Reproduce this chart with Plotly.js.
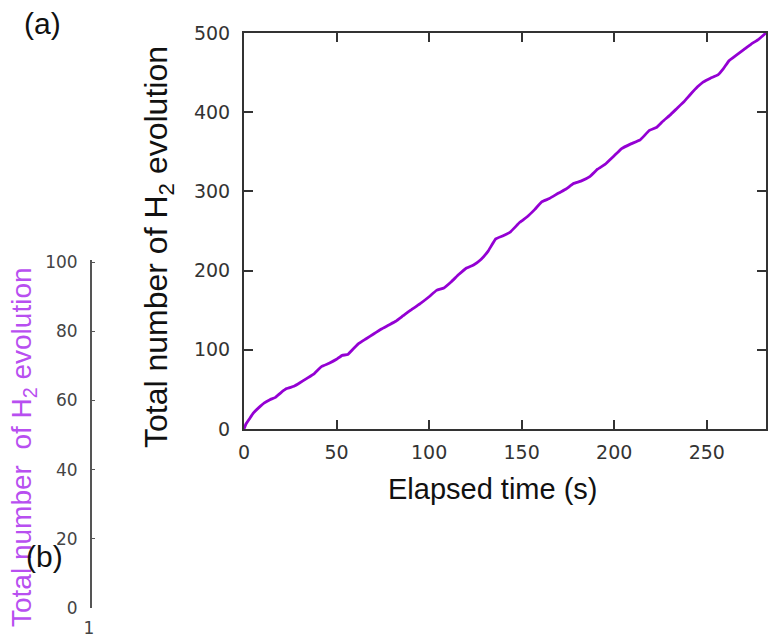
<!DOCTYPE html>
<html>
<head>
<meta charset="utf-8">
<script src="https://cdn.plot.ly/plotly-3.0.1.min.js"></script>
<style>html,body{margin:0;padding:0;background:#fff;}#chart{width:771px;height:636px;}</style>
</head>
<body>
<div id="chart"></div>
<script>
// Elapsed time (s) and cumulative H2 evolution count
const elapsedTime = [0,1,3,5,8,11,14,17,20,23,27,30,34,38,42,46,50,53,56,59,62,66,70,74,78,82,86,90,95,100,104,108,112,116,120,124,128,132,136,140,144,149,153,157,161,165,170,174,178,182,187,191,195,200,204,209,214,219,223,226,230,234,238,241,245,248,252,256,259,262,266,270,274,278,282];
const totalH2 = [0,6,13,20,27,33,37,40,46,51,54,58,64,70,79,83,88,93,94,101,108,114,120,126,131,136,143,150,158,167,175,178,186,195,203,207,214,225,240,244,249,261,268,277,287,291,298,303,310,313,319,328,334,345,354,360,365,377,381,388,396,405,414,422,432,438,443,447,455,465,472,479,486,492,500];
const xTicksA = [0,50,100,150,200,250];
const yTicksA = [0,100,200,300,400,500];
const yTicksB = [0,20,40,60,80,100];
const xTicksB = [1];

const L = 5, R = 5, T = 33, B = 28, W = 771, H = 636;
const pw = W - L - R, ph = H - T - B;
const px = v => (v - L) / pw;
const py = v => (H - B - v) / ph;

const traces = [
  {x: elapsedTime, y: totalH2, type: 'scatter', mode: 'lines',
   line: {color: '#9400d3', width: 2.8, shape: 'spline', smoothing: 0.3},
   xaxis: 'x', yaxis: 'y', hoverinfo: 'skip'},
  {x: [], y: [], type: 'scatter', mode: 'lines', xaxis: 'x2', yaxis: 'y2', hoverinfo: 'skip'}
];

const tickFont = {family: 'DejaVu Sans', size: 19, color: '#333'};
const tickFontB = {family: 'DejaVu Sans', size: 17, color: '#444'};
const layout = {
  width: W, height: H,
  margin: {l: L, r: R, t: T, b: B, pad: 0},
  paper_bgcolor: '#fff', plot_bgcolor: '#fff',
  showlegend: false,
  xaxis: {domain: [px(244), px(766)], anchor: 'y', range: [0, 282],
    tickvals: xTicksA, ticktext: xTicksA.map(String), ticks: 'inside', ticklen: 9, tickwidth: 2, tickcolor: '#333',
    showline: true, linecolor: '#333', linewidth: 2, mirror: 'ticks', showgrid: false, zeroline: false,
    tickfont: tickFont, ticklabelstandoff: 5},
  yaxis: {domain: [py(429), py(33)], anchor: 'x', range: [0, 500],
    tickvals: yTicksA, ticktext: yTicksA.map(String), ticks: 'inside', ticklen: 9, tickwidth: 2, tickcolor: '#333',
    showline: true, linecolor: '#333', linewidth: 2, mirror: 'ticks', showgrid: false, zeroline: false,
    tickfont: tickFont, ticklabelstandoff: 8},
  xaxis2: {domain: [px(89), px(110)], anchor: 'y2', range: [1, 2],
    tickvals: xTicksB, ticktext: xTicksB.map(String), ticks: '', showline: false, showgrid: false, zeroline: false,
    tickfont: tickFontB, ticklabelstandoff: 8},
  yaxis2: {domain: [py(608), py(260)], anchor: 'free', position: px(91), overlaying: false, range: [0, 100.6],
    tickvals: yTicksB, ticktext: yTicksB.map(String), ticks: 'inside', ticklen: 3, tickwidth: 1, tickcolor: '#555',
    showline: true, linecolor: '#555', linewidth: 2, showgrid: false, zeroline: false,
    tickfont: tickFontB, ticklabelstandoff: 9},
  annotations: [
    {text: 'Elapsed time (s)', xref: 'paper', yref: 'paper', x: px(493), y: py(489), xanchor: 'center', yanchor: 'middle',
     showarrow: false, font: {family: 'Liberation Sans', size: 29, color: '#111'}},
    {text: 'Total number of H<sub>2</sub> evolution', xref: 'paper', yref: 'paper', x: px(158), y: py(247), xanchor: 'center', yanchor: 'middle',
     textangle: -90, showarrow: false, font: {family: 'Liberation Sans', size: 32, color: '#111'}},
    {text: 'Total number  of H<sub>2</sub> evolution', xref: 'paper', yref: 'paper', x: px(23), y: py(447), xanchor: 'center', yanchor: 'middle',
     textangle: -90, showarrow: false, font: {family: 'Liberation Sans', size: 28, color: '#b84ff0'}},
    {text: '(a)', xref: 'paper', yref: 'paper', x: px(42), y: py(24), xanchor: 'center', yanchor: 'middle',
     showarrow: false, font: {family: 'Liberation Sans', size: 30, color: '#111'}},
    {text: '(b)', xref: 'paper', yref: 'paper', x: px(44), y: py(556), xanchor: 'center', yanchor: 'middle',
     showarrow: false, font: {family: 'Liberation Sans', size: 30, color: '#111'}}
  ]
};

Plotly.newPlot('chart', traces, layout, {staticPlot: true, displayModeBar: false});
</script>
</body>
</html>
